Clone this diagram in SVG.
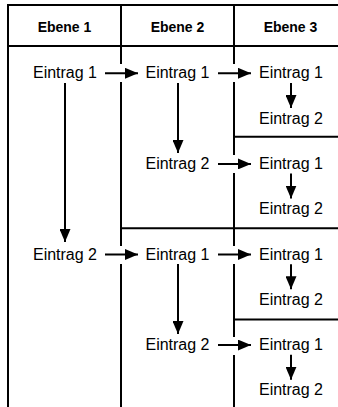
<svg xmlns="http://www.w3.org/2000/svg" width="338" height="407" viewBox="0 0 338 407">
<defs>
<marker id="ah" viewBox="0 0 13 11" refX="13" refY="5.5" markerWidth="13" markerHeight="11" markerUnits="userSpaceOnUse" orient="auto">
<path d="M0,0 L13,5.5 L0,11 Z" fill="#000"/>
</marker>
</defs>
<style>
.grid{stroke:#000;stroke-width:2;fill:none}
.hdr{font-family:"Liberation Sans",Arial,sans-serif;font-size:14px;font-weight:bold;fill:#000;text-anchor:middle}
.t{font-family:"Liberation Sans",Arial,sans-serif;font-size:16px;fill:#000;text-anchor:middle}
.c{stroke:#000;stroke-width:2;fill:none;marker-end:url(#ah)}
.gap{fill:#fff}
</style>
<rect width="338" height="407" fill="#fff"/>
<g id="table">
<rect class="grid" x="8" y="5" width="339" height="420"/>
<line class="grid" x1="8" y1="46" x2="347" y2="46"/>
<line class="grid" x1="121" y1="5" x2="121" y2="425"/>
<line class="grid" x1="234" y1="5" x2="234" y2="425"/>
<line class="grid" x1="234" y1="136.7" x2="347" y2="136.7"/>
<line class="grid" x1="121" y1="228.3" x2="347" y2="228.3"/>
<line class="grid" x1="234" y1="319.5" x2="347" y2="319.5"/>
<rect class="gap" x="118" y="64" width="6" height="18"/>
<rect class="gap" x="231" y="64" width="6" height="18"/>
<rect class="gap" x="231" y="155" width="6" height="18"/>
<rect class="gap" x="118" y="246" width="6" height="18"/>
<rect class="gap" x="231" y="246" width="6" height="18"/>
<rect class="gap" x="231" y="337" width="6" height="18"/>
</g>
<g id="headers">
<text class="hdr" x="64.5" y="31.5">Ebene 1</text>
<text class="hdr" x="177.5" y="31.5">Ebene 2</text>
<text class="hdr" x="290.5" y="31.5">Ebene 3</text>
</g>
<g id="n1"><text class="t" x="65" y="78.3">Eintrag 1</text></g>
<g id="n2"><text class="t" x="65" y="259.5">Eintrag 2</text></g>
<g id="n11"><text class="t" x="177.5" y="78.3">Eintrag 1</text></g>
<g id="n12"><text class="t" x="177.5" y="168.9">Eintrag 2</text></g>
<g id="n21"><text class="t" x="177.5" y="259.5">Eintrag 1</text></g>
<g id="n22"><text class="t" x="177.5" y="350.1">Eintrag 2</text></g>
<g id="n111"><text class="t" x="291" y="78.3">Eintrag 1</text></g>
<g id="n112"><text class="t" x="291" y="123.6">Eintrag 2</text></g>
<g id="n121"><text class="t" x="291" y="168.9">Eintrag 1</text></g>
<g id="n122"><text class="t" x="291" y="214.2">Eintrag 2</text></g>
<g id="n211"><text class="t" x="291" y="259.5">Eintrag 1</text></g>
<g id="n212"><text class="t" x="291" y="304.8">Eintrag 2</text></g>
<g id="n221"><text class="t" x="291" y="350.1">Eintrag 1</text></g>
<g id="n222"><text class="t" x="291" y="395.4">Eintrag 2</text></g>
<g id="connectors">
<line class="c" x1="105" y1="73.3" x2="138" y2="73.3"/>
<line class="c" x1="218" y1="73.3" x2="251" y2="73.3"/>
<line class="c" x1="218" y1="163.9" x2="251" y2="163.9"/>
<line class="c" x1="105" y1="254.5" x2="138" y2="254.5"/>
<line class="c" x1="218" y1="254.5" x2="251" y2="254.5"/>
<line class="c" x1="218" y1="345.1" x2="251" y2="345.1"/>
<line class="c" x1="65" y1="83" x2="65" y2="242"/>
<line class="c" x1="178" y1="83" x2="178" y2="153"/>
<line class="c" x1="178" y1="264" x2="178" y2="334"/>
<line class="c" x1="291" y1="83" x2="291" y2="108"/>
<line class="c" x1="291" y1="173.6" x2="291" y2="198.6"/>
<line class="c" x1="291" y1="264.2" x2="291" y2="289.2"/>
<line class="c" x1="291" y1="354.8" x2="291" y2="379.8"/>
</g>
</svg>
